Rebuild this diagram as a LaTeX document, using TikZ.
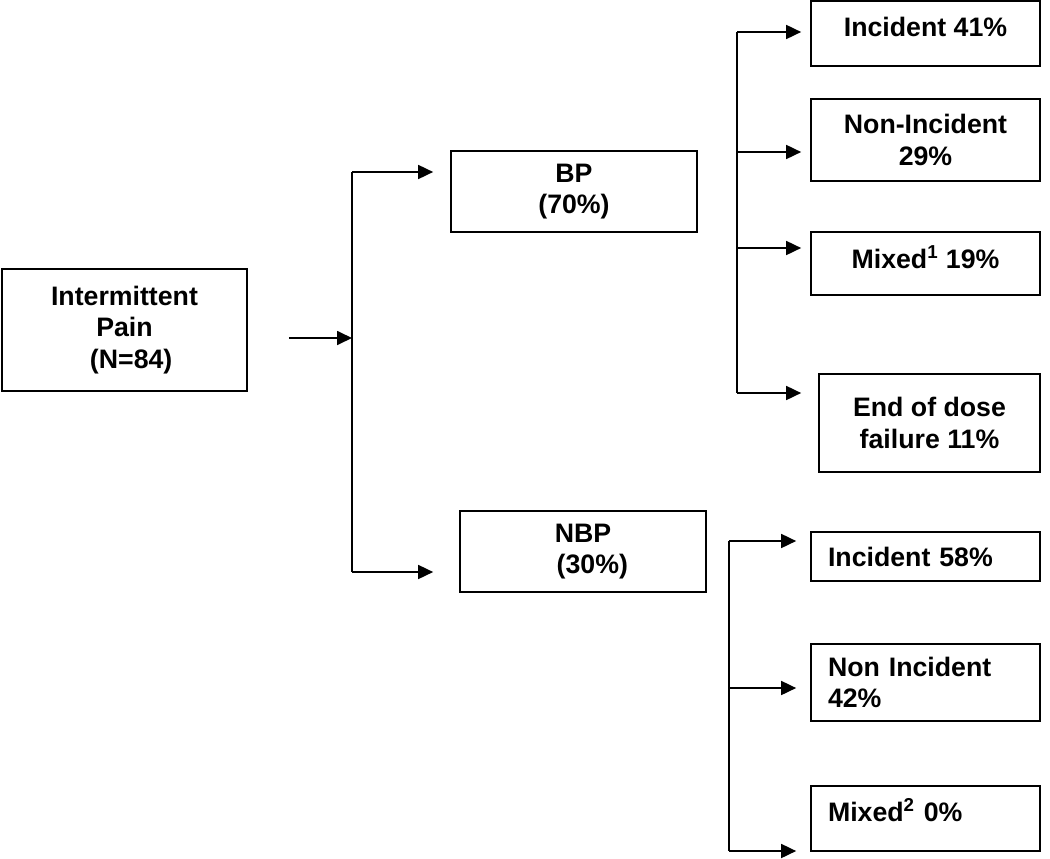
\documentclass[tikz,border=0pt]{standalone}
\usepackage{fontspec}
\setmainfont{Liberation Sans}
\usetikzlibrary{arrows.meta}

\tikzset{
  box/.style={draw, line width=1pt, inner sep=0pt, align=center,
    font=\bfseries\fontsize{15.2}{17.8}\selectfont},
  leftbox/.style={box, align=left, text width=3.9cm},
  arr/.style={line width=1pt, -{Triangle[length=0.30cm,width=0.28cm]}}
}

\begin{document}
\begin{tikzpicture}[x=0.02cm,y=-0.02cm]
\useasboundingbox (0,0) rectangle (1050,858);

%draw the boxes
\node[box, minimum width=4.90cm, minimum height=2.44cm] (pain) at (124.5,330) {Intermittent\\Pain\\\hspace*{0.5em}(N=84)};
\node[box, minimum width=4.92cm, minimum height=1.62cm] (bp) at (574,191.5) {BP\\(70\%)};
\node[box, minimum width=4.92cm, minimum height=1.62cm] (nbp) at (583,551.5) {NBP\\\hspace*{0.7em}(30\%)};

\node[box, minimum width=4.58cm, minimum height=1.30cm, text depth=0.26cm] (inc1) at (925.5,33.5) {Incident 41\%};
\node[box, minimum width=4.58cm, minimum height=1.64cm] (non1) at (925.5,140) {Non-Incident\\29\%};
\node[box, minimum width=4.58cm, minimum height=1.26cm, text depth=0.26cm] (mix1) at (925.5,263.5) {Mixed\textsuperscript{1} 19\%};
\node[box, minimum width=4.42cm, minimum height=1.96cm] (eod) at (929.5,423) {End of dose\\failure 11\%};

\node[leftbox, minimum width=4.58cm, minimum height=0.98cm] (inc2) at (925.5,556.5) {Incident 58\%};
\node[leftbox, minimum width=4.58cm, minimum height=1.54cm] (non2) at (925.5,682.5) {Non Incident\\42\%};
\node[leftbox, minimum width=4.58cm, minimum height=1.30cm, text depth=0.34cm] (mix2) at (925.5,818.5) {Mixed\textsuperscript{2} 0\%};

%branch points
\coordinate (a0) at (352,338);
\coordinate (a1) at (352,172);
\coordinate (a2) at (352,572);
\coordinate (b1) at (737,32);
\coordinate (b2) at (737,152);
\coordinate (b3) at (737,248);
\coordinate (b4) at (737,393);
\coordinate (c1) at (729,541);
\coordinate (c2) at (729,688);
\coordinate (c3) at (729,851);

%draw vertical lines
\draw[line width=1pt] (a1) -- (a2);
\draw[line width=1pt] (b1) -- (b4);
\draw[line width=1pt] (c1) -- (c3);

%draw arrows
\draw[arr, shorten <=0.82cm] (pain.east |- a0) -- (a0);
\draw[arr, shorten >=0.34cm] (a1) -- (a1 -| bp.west);
\draw[arr, shorten >=0.52cm] (a2) -- (a2 -| nbp.west);

\draw[arr, shorten >=0.18cm] (b1) -- (b1 -| inc1.west);
\draw[arr, shorten >=0.18cm] (b2) -- (b2 -| non1.west);
\draw[arr, shorten >=0.18cm] (b3) -- (b3 -| mix1.west);
\draw[arr, shorten >=0.34cm] (b4) -- (b4 -| eod.west);

\draw[arr, shorten >=0.28cm] (c1) -- (c1 -| inc2.west);
\draw[arr, shorten >=0.28cm] (c2) -- (c2 -| non2.west);
\draw[arr, shorten >=0.28cm] (c3) -- (c3 -| mix2.west);
\end{tikzpicture}
\end{document}
